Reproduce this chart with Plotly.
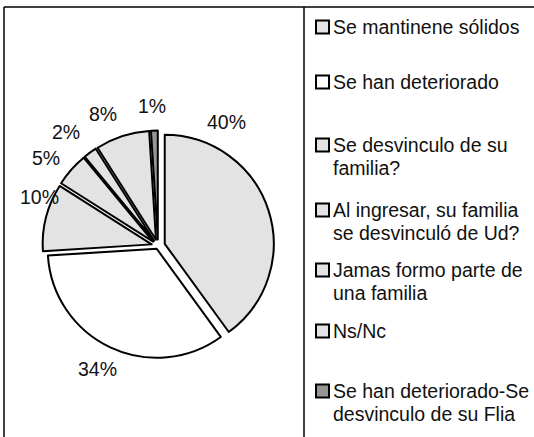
import plotly.graph_objects as go

# ---- data ----
categories = [
    "Se mantinene sólidos",
    "Se han deteriorado",
    "Se desvinculo de su<br>familia?",
    "Al ingresar, su familia<br>se desvinculó de Ud?",
    "Jamas formo parte de<br>una familia",
    "Ns/Nc",
    "Se han deteriorado-Se<br>desvinculo de su Flia",
]
values = [40, 34, 10, 5, 2, 8, 1]
percent_labels = ["40%", "34%", "10%", "5%", "2%", "8%", "1%"]

# ---- styles / layout ----
W, H = 534, 437
colors = ["#e3e3e3", "#ffffff", "#e3e3e3", "#e3e3e3", "#e3e3e3", "#e3e3e3", "#969696"]
pulls = [0.065, 0.028, 0.06, 0.06, 0.06, 0.06, 0.06]
FONT = "Arial, Liberation Sans, sans-serif"
FS = 19.5


def px(x):
    return x / W


def py(y):
    return 1 - y / H


cx, cy, R = 158, 246, 109
Rd = R * (1 + max(pulls))

fig = go.Figure(
    go.Pie(
        labels=[c.replace("<br>", " ") for c in categories],
        values=values,
        sort=False,
        direction="clockwise",
        rotation=0,
        pull=pulls,
        marker=dict(colors=colors, line=dict(color="#000000", width=2)),
        textinfo="none",
        showlegend=False,
        hoverinfo="label+percent",
        domain=dict(x=[px(cx - Rd), px(cx + Rd)], y=[py(cy + Rd), py(cy - Rd)]),
    )
)

# percentage labels (positions in pixels)
label_pos = [(226, 122), (97, 369), (39, 197), (46, 158), (66, 132), (103, 114), (152, 106)]
annotations = []
for txt, (lx, ly) in zip(percent_labels, label_pos):
    annotations.append(dict(
        x=px(lx), y=py(ly), xref="paper", yref="paper", text=txt, showarrow=False,
        xanchor="center", yanchor="middle", font=dict(family=FONT, size=FS, color="#111111"),
    ))

# legend
legend_rows = [27, 82, 145, 210, 270, 331, 391]
LINE = 22.5
shapes = []
for name, col, ry in zip(categories, colors, legend_rows):
    shapes.append(dict(
        type="rect", xref="paper", yref="paper",
        x0=px(316), x1=px(329), y0=py(ry + 6.5), y1=py(ry - 6.5),
        fillcolor=col, line=dict(color="#000000", width=2),
    ))
    for i, line in enumerate(name.split("<br>")):
        annotations.append(dict(
            x=px(331), y=py(ry + i * LINE), xref="paper", yref="paper", text=line,
            showarrow=False, xanchor="left", yanchor="middle", align="left",
            font=dict(family=FONT, size=FS, color="#111111"),
        ))

# frame lines
for (x0, y0, x1, y1) in [(4, 7, 534, 7), (4, 7, 4, 437), (304, 7, 304, 437)]:
    shapes.append(dict(
        type="line", xref="paper", yref="paper",
        x0=px(x0), y0=py(y0), x1=px(x1), y1=py(y1),
        line=dict(color="#000000", width=1.5),
    ))

fig.update_layout(
    width=W, height=H,
    margin=dict(l=0, r=0, t=0, b=0),
    paper_bgcolor="#ffffff",
    plot_bgcolor="#ffffff",
    shapes=shapes,
    annotations=annotations,
)

fig.write_html(
    "out.html",
    config={"displayModeBar": False},
    post_script="document.body.style.margin='0';document.body.style.overflow='hidden';",
)
